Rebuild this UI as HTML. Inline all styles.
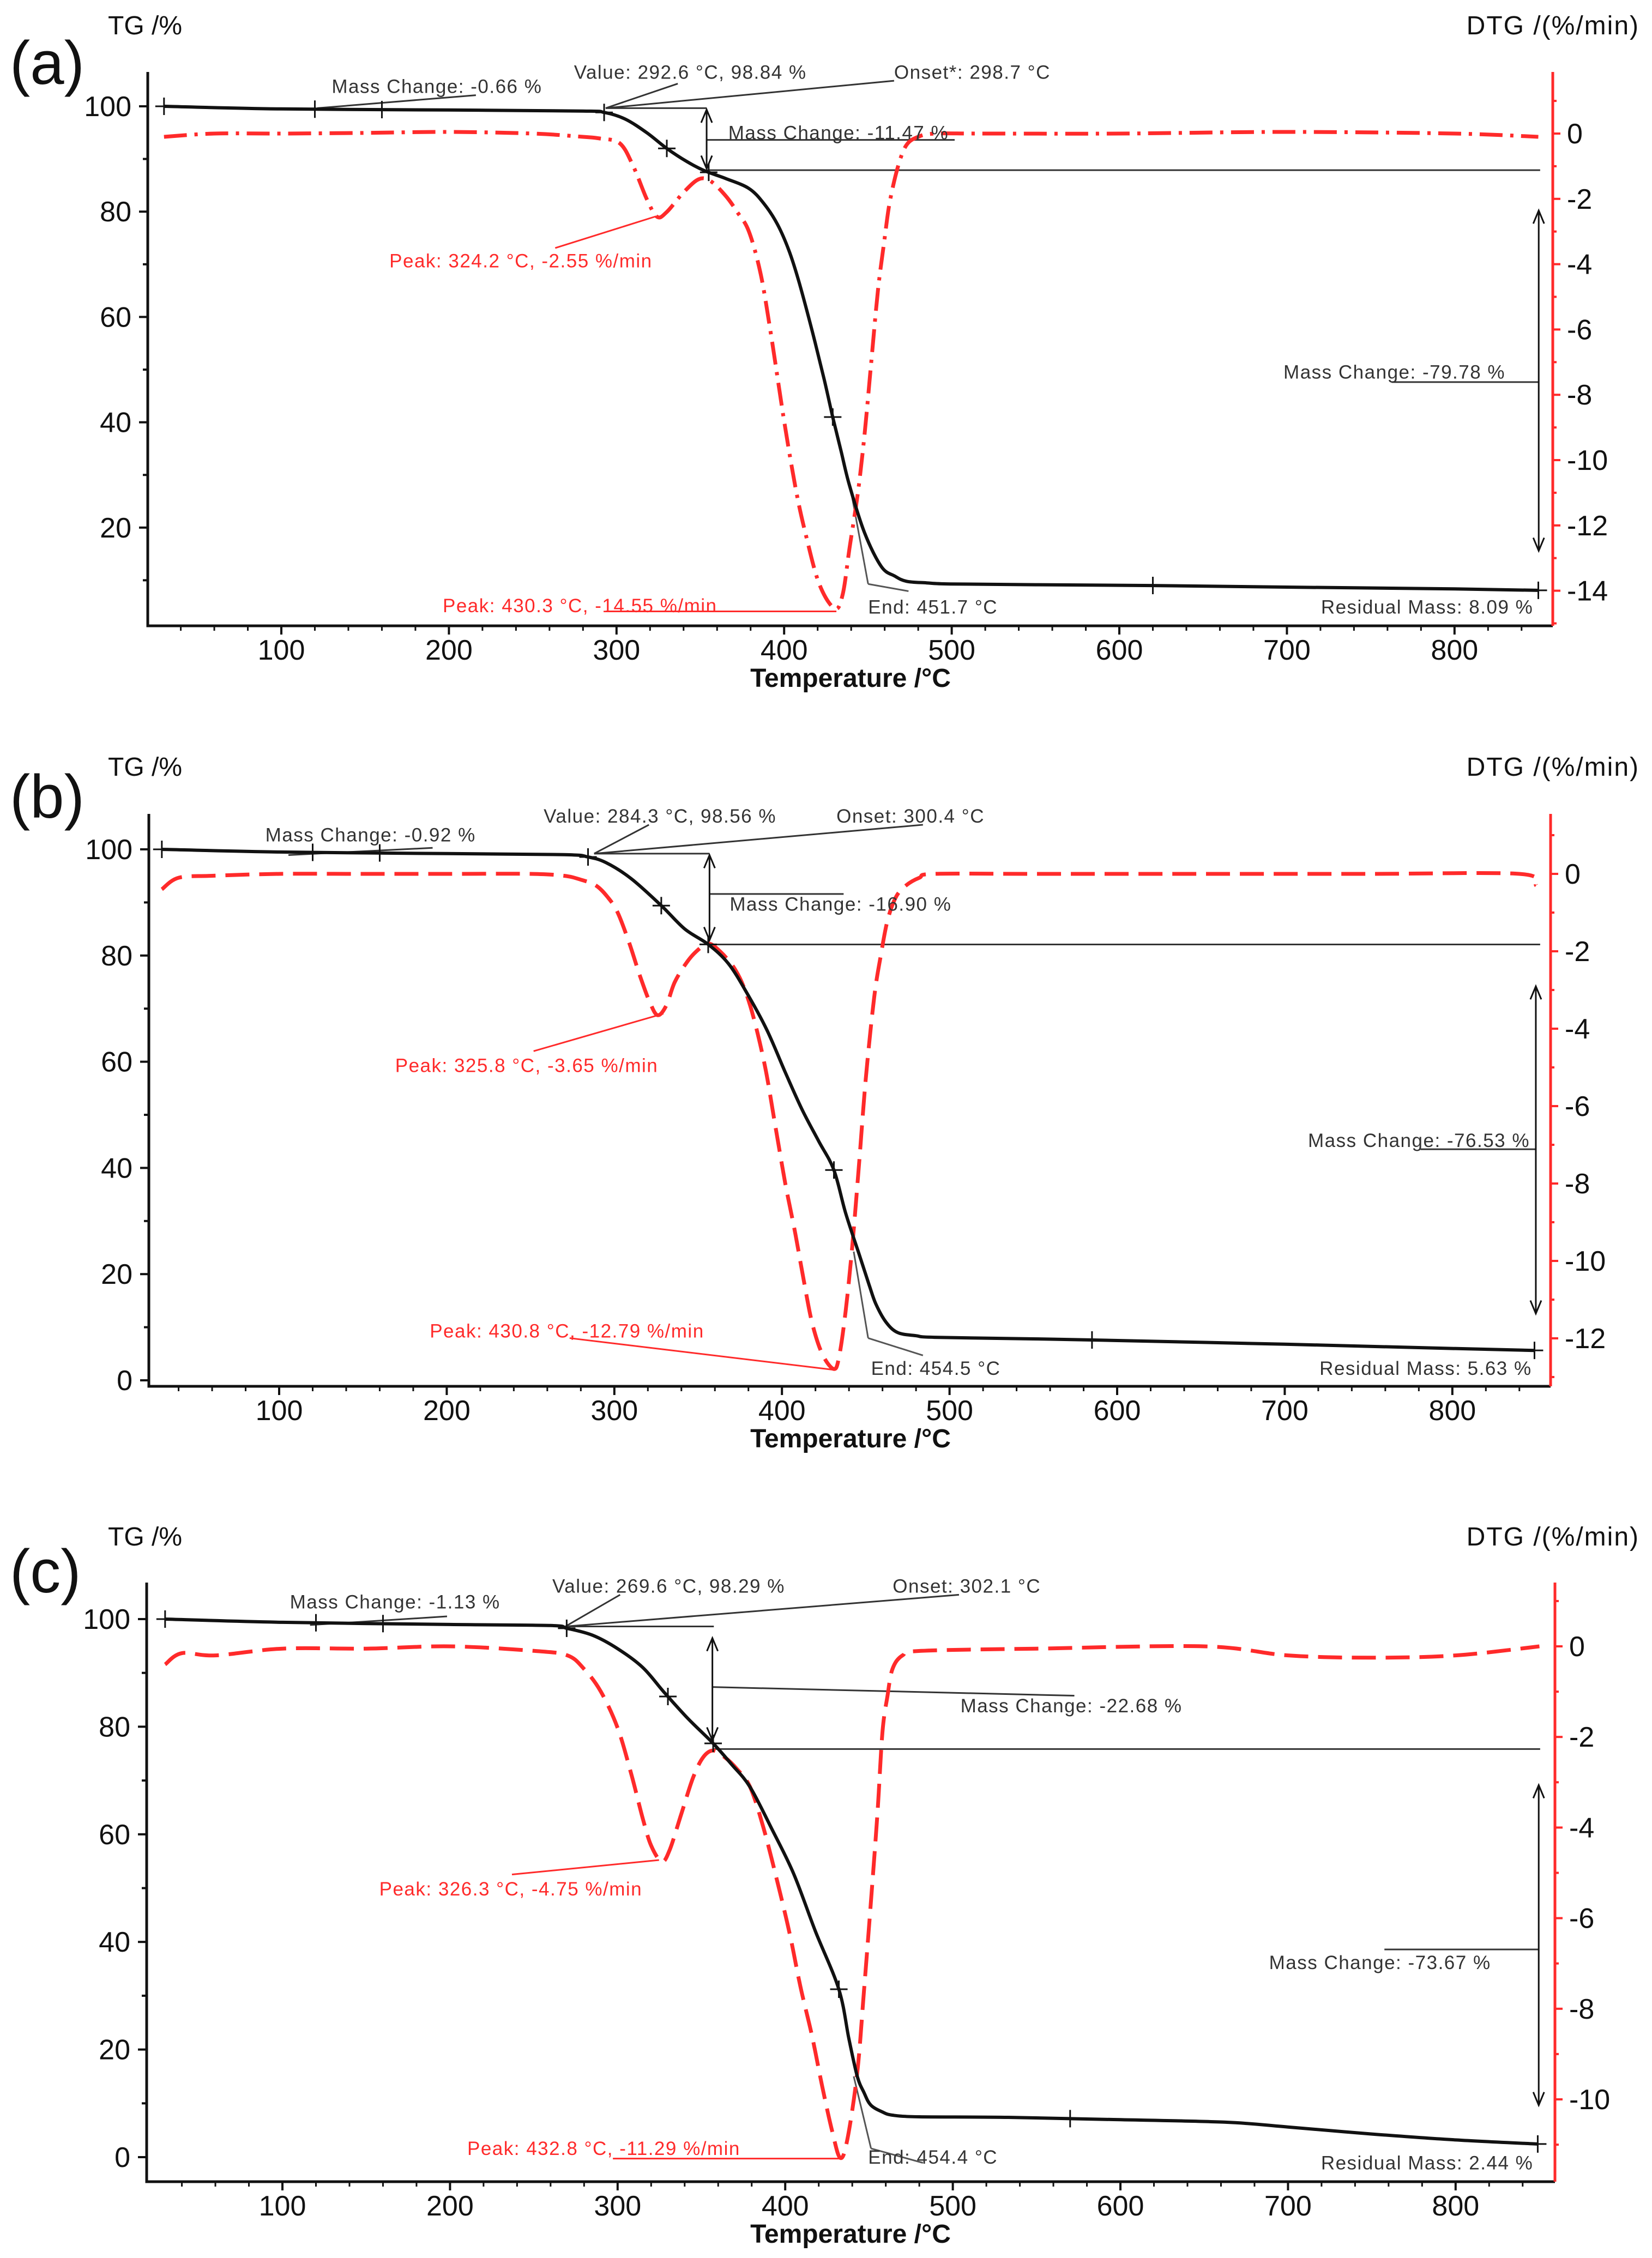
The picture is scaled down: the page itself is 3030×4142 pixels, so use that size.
<!DOCTYPE html>
<html><head><meta charset="utf-8">
<style>
html,body{margin:0;padding:0;background:#fff;}
svg{display:block;font-family:"Liberation Sans",sans-serif;}
</style></head>
<body>
<svg id="fig" width="3030" height="4142" viewBox="0 0 3030 4142" xmlns="http://www.w3.org/2000/svg"></svg>
<script>
// ---------- data ----------
const tgT_a=[30,100,200,280,292.6,305,318,330,342,353,365,379,388,396,403,409,417,424,429,434,439,448,458,466,473,485,499,550,620,700,800,850];
const tgV_a=[100,99.5,99.3,99.1,98.84,97.6,95,92,89.5,87.7,86.3,84.4,81.5,77.6,72.5,66.5,57,48,41,34.5,28,19,12.6,10.8,9.8,9.5,9.3,9.15,9.0,8.7,8.35,8.09];
const dtgT_a=[30,60,100,150,200,250,280,290,302,310,318,324.2,330,340,349,356,365,372,379,386,392,400,407,413,421,430.3,435,439,444,448,452,456,460,463,468,473,480,490,520,600,700,800,850];
const dtgV_a=[-0.1,0,0,0.02,0.05,0,-0.1,-0.15,-0.3,-1.0,-2.0,-2.55,-2.4,-1.8,-1.4,-1.45,-1.9,-2.4,-3.0,-4.3,-6.1,-8.8,-10.9,-12.3,-13.8,-14.55,-14.1,-12.7,-11,-9.2,-7,-4.8,-3.2,-2.1,-1,-0.35,-0.1,0,0,0,0.05,0,-0.1];

const tgT_b=[30,100,200,270,284.3,295,310,328,342,356,368,379,391,402,412,422,431,438,446,452,456,462,469,480,491,550,585,700,800,849];
const tgV_b=[100,99.5,99.2,99.0,98.56,97.5,94.5,89.4,85,82.1,78.5,73,66,58,51,45,39.6,31.5,23.8,18,14.4,11,9,8.4,8.1,7.8,7.6,6.8,6.0,5.63];
const dtgT_b=[30,40,60,100,150,200,250,270,280,289,296,302,309,315,321,325.8,331,336,343,349,356,363,371,377,383,390,396,402,408,413,418,424,430.8,434,438,442,446,450,455,459,463,468,474,482,491,550,650,750,840,850];
const dtgV_b=[-0.4,-0.1,-0.05,0,0,0,0,-0.05,-0.15,-0.3,-0.6,-1.0,-1.8,-2.6,-3.3,-3.65,-3.4,-2.8,-2.3,-2.0,-1.8,-2.0,-2.4,-2.9,-3.7,-5,-6.5,-8,-9.3,-10.5,-11.6,-12.4,-12.79,-12.5,-11.3,-9.6,-7.5,-5.3,-3.2,-2.1,-1.2,-0.6,-0.3,-0.1,0,0,0,0,0,-0.3];

const tgT_c=[30,100,200,260,269.6,285,300,315,328,342,357,368,379,392,405,418,432,438,443,447,451,458,464,480,533,594,662,700,750,800,849];
const tgV_c=[100,99.4,99.0,98.8,98.29,97,94.5,91,86.3,81.5,76.9,73,68.8,61,52.7,42,31.2,22,15,12,9.7,8.4,7.8,7.5,7.4,7,6.5,5.6,4.3,3.2,2.44];
const dtgT_c=[30,40,60,100,150,200,250,270,280,290,300,308,315,320,326.3,331,338,345,351,357,364,371,379,387,396,403,409,416,422,428,432.8,437,443,447,451,455,458,461,464,470,481,550,650,700,750,800,850];
const dtgV_c=[-0.4,-0.15,-0.2,-0.05,-0.05,0,-0.1,-0.2,-0.5,-1.0,-1.8,-2.8,-3.8,-4.4,-4.75,-4.5,-3.7,-2.9,-2.45,-2.3,-2.45,-2.7,-3.1,-4.0,-5.3,-6.4,-7.5,-8.6,-9.7,-10.7,-11.29,-10.9,-9.4,-7.6,-5.7,-3.7,-1.9,-1.1,-0.5,-0.2,-0.1,-0.05,0,-0.2,-0.25,-0.2,0];

const xTickLabels=[100,200,300,400,500,600,700,800];
const tgTicks_a=[20,40,60,80,100];
const tgTicks_b=[0,20,40,60,80,100];
const tgTicks_c=[0,20,40,60,80,100];
const dtgTicks_a=[0,-2,-4,-6,-8,-10,-12,-14];
const dtgTicks_b=[0,-2,-4,-6,-8,-10,-12];
const dtgTicks_c=[0,-2,-4,-6,-8,-10];
const markT_a=[30,120,160,292.6,330,355,429,620,850];
const markT_b=[30,120,160,284.3,328,356,431,585,849];
const markT_c=[30,120,160,269.6,330,357,432,570,849];

// ---------- panel layout ----------
const S=2.645;
const panels=[
 {id:'a',L:271,R:2848,T:132,B:1148,x100:516,tg100:195,tgU:9.66,d0:245,dU:59.9,labY:58,tagY:116,
  tgT:tgT_a,tgV:tgV_a,dT:dtgT_a,dV:dtgV_a,tgTicks:tgTicks_a,dTicks:dtgTicks_a,marks:markT_a,dash:'42 14 6 14',
  notes:[['Mass Change: -0.66 %',230,60,'#333'],['Value: 292.6 °C, 98.84 %',398,50,'#333'],['Onset*: 298.7 °C',620,50,'#333'],
   ['Mass Change: -11.47 %',505,92,'#333'],['Mass Change: -79.78 %',890,258,'#333'],['Peak: 324.2 °C, -2.55 %/min',270,181,'#ff2a2a'],
   ['Peak: 430.3 °C, -14.55 %/min',307,420,'#ff2a2a'],['End: 451.7 °C',602,421,'#333'],['Residual Mass: 8.09 %',916,421,'#333']],
  lines:[[220,75,330,66,'#333'],[420,75,470,58,'#333'],[420,75,620,56,'#333'],[420,75,490,75,'#333'],[490,97,662,97,'#333'],[490,118,1068,118,'#333'],
   [965,265,1067,265,'#333'],[385,172,455,150,'#ff2a2a'],[420,424,580,424,'#ff2a2a'],[590,340,602,405,'#555'],[602,405,630,410,'#555']],
  arrows:[[490,76,117],[1067,146,382]]},
 {id:'b',L:273,R:2844,T:1493,B:2543,x100:512,tg100:1558,tgU:9.74,d0:1603,dU:71,labY:1418,tagY:1462,
  tgT:tgT_b,tgV:tgV_b,dT:dtgT_b,dV:dtgV_b,tgTicks:tgTicks_b,dTicks:dtgTicks_b,marks:markT_b,dash:'44 18',
  notes:[['Mass Change: -0.92 %',184,579,'#333'],['Value: 284.3 °C, 98.56 %',377,566,'#333'],['Onset: 300.4 °C',580,566,'#333'],
   ['Mass Change: -16.90 %',506,627,'#333'],['Mass Change: -76.53 %',907,791,'#333'],['Peak: 325.8 °C, -3.65 %/min',274,739,'#ff2a2a'],
   ['Peak: 430.8 °C, -12.79 %/min',298,923,'#ff2a2a'],['End: 454.5 °C',604,949,'#333'],['Residual Mass: 5.63 %',915,949,'#333']],
  lines:[[200,593,300,588,'#333'],[412,592,450,572,'#333'],[412,592,640,572,'#333'],[412,592,492,592,'#333'],[492,620,585,620,'#333'],[492,655,1068,655,'#333'],
   [985,797,1065,797,'#333'],[370,729,460,703,'#ff2a2a'],[395,928,578,950,'#ff2a2a'],[592,868,602,928,'#555'],[602,928,640,940,'#555']],
  arrows:[[492,593,652],[1065,684,911]]},
 {id:'c',L:269,R:2852,T:2903,B:4002,x100:518,tg100:2970,tgU:9.87,d0:3020,dU:83.1,labY:2830,tagY:2883,
  tgT:tgT_c,tgV:tgV_c,dT:dtgT_c,dV:dtgV_c,tgTicks:tgTicks_c,dTicks:dtgTicks_c,marks:markT_c,dash:'44 18',
  notes:[['Mass Change: -1.13 %',201,1111,'#333'],['Value: 269.6 °C, 98.29 %',383,1100,'#333'],['Onset: 302.1 °C',619,1100,'#333'],
   ['Mass Change: -22.68 %',666,1183,'#333'],['Mass Change: -73.67 %',880,1361,'#333'],['Peak: 326.3 °C, -4.75 %/min',263,1310,'#ff2a2a'],
   ['Peak: 432.8 °C, -11.29 %/min',324,1490,'#ff2a2a'],['End: 454.4 °C',602,1496,'#333'],['Residual Mass: 2.44 %',916,1500,'#333']],
  lines:[[215,1127,310,1121,'#333'],[392,1128,430,1106,'#333'],[392,1128,665,1106,'#333'],[392,1128,495,1128,'#333'],[494,1170,745,1176,'#333'],[494,1213,1068,1213,'#333'],
   [960,1352,1067,1352,'#333'],[355,1300,457,1290,'#ff2a2a'],[425,1497,583,1497,'#ff2a2a'],[592,1440,604,1490,'#555'],[604,1490,640,1500,'#555']],
  arrows:[[494,1136,1207],[1067,1238,1460]]}
];

const NS='http://www.w3.org/2000/svg';
const svg=document.getElementById('fig');
function mk(tag,attrs,parent){const e=document.createElementNS(NS,tag);for(const k in attrs)e.setAttribute(k,attrs[k]);(parent||svg).appendChild(e);return e;}
function smooth(pts){let d='M'+pts[0][0].toFixed(1)+','+pts[0][1].toFixed(1);
 for(let i=0;i<pts.length-1;i++){const p0=pts[i-1]||pts[i],p1=pts[i],p2=pts[i+1],p3=pts[i+2]||p2;
  const c1=[p1[0]+(p2[0]-p0[0])/6,p1[1]+(p2[1]-p0[1])/6],c2=[p2[0]-(p3[0]-p1[0])/6,p2[1]-(p3[1]-p1[1])/6];
  d+='C'+c1[0].toFixed(1)+','+c1[1].toFixed(1)+' '+c2[0].toFixed(1)+','+c2[1].toFixed(1)+' '+p2[0].toFixed(1)+','+p2[1].toFixed(1);}
 return d;}
function interp(xs,ys,x){for(let i=0;i<xs.length-1;i++){if(x>=xs[i]&&x<=xs[i+1]){const t=(x-xs[i])/(xs[i+1]-xs[i]);return ys[i]+t*(ys[i+1]-ys[i]);}}return ys[ys.length-1];}

panels.forEach(p=>{
 const g=mk('g',{});
 
 
 const X=t=>p.x100+(t-100)*3.074;
 const Ytg=v=>p.tg100+(100-v)*p.tgU;
 const Yd=d=>p.d0-d*p.dU;
 const tag=mk('text',{x:18,y:p.tagY+38,'font-size':112,fill:'#111'},g);tag.textContent='('+p.id+')';
 
 
 const tl=mk('text',{x:198,y:p.labY+5,'font-size':48,fill:'#111'},g);tl.textContent='TG /%';
 
 
 const dl=mk('text',{x:3007,y:p.labY+5,'font-size':48,fill:'#111','text-anchor':'end','letter-spacing':2},g);dl.textContent='DTG /(%/min)';
 
 
 const ax=mk('path',{d:`M${p.L},${p.T}V${p.B}H${p.R}`,stroke:'#111','stroke-width':5,fill:'none'},g);
 
 
 const rax=mk('line',{x1:p.R,y1:p.T,x2:p.R,y2:p.B,stroke:'#ff2a2a','stroke-width':5},g);
 
 
 for(let t=40;t<=850;t+=20){const maj=t%100===0;mk('line',{x1:X(t),x2:X(t),y1:p.B,y2:p.B+(maj?16:9),stroke:'#111','stroke-width':maj?4:3},g);}
 xTickLabels.forEach(t=>{const e=mk('text',{x:X(t),y:p.B+62,'font-size':52,'text-anchor':'middle',fill:'#111'},g);e.textContent=t;
  
  });
 const xt=mk('text',{x:1560,y:p.B+112,'font-size':48,'text-anchor':'middle',fill:'#111','font-weight':'bold'},g);xt.textContent='Temperature /°C';
 
 
 for(let v=-10;v<=105;v+=10){const y=Ytg(v);if(y<p.T||y>p.B)continue;const maj=v%20===0;mk('line',{x1:p.L-(maj?16:9),x2:p.L,y1:y,y2:y,stroke:'#111','stroke-width':4},g);}
 p.tgTicks.forEach(v=>{const e=mk('text',{x:p.L-30,y:Ytg(v)+18,'font-size':52,'text-anchor':'end',fill:'#111'},g);e.textContent=v;
  
  });
 for(let d=2;d>=-16;d--){const y=Yd(d);if(y<p.T||y>p.B)continue;mk('line',{x1:p.R,x2:p.R+(d%2===0?14:7),y1:y,y2:y,stroke:'#ff2a2a','stroke-width':4},g);}
 p.dTicks.forEach(d=>{const e=mk('text',{x:p.R+26,y:Yd(d)+18,'font-size':52,fill:'#111'},g);e.textContent=d;
  
  });
 p.lines.forEach(l=>{mk('line',{x1:l[0]*S,y1:l[1]*S,x2:l[2]*S,y2:l[3]*S,stroke:l[4],'stroke-width':3},g);});
 p.arrows.forEach(a=>{const x=a[0]*S,y1=a[1]*S,y2=a[2]*S;
  const ar=mk('path',{d:`M${x},${y1}V${y2}M${x-10},${y1+24}L${x},${y1}L${x+10},${y1+24}M${x-10},${y2-24}L${x},${y2}L${x+10},${y2-24}`,stroke:'#111','stroke-width':3,fill:'none'},g);
  
  });
 const dc=mk('path',{d:smooth(p.dT.map((t,i)=>[X(t),Yd(p.dV[i])])),stroke:'#ff2a2a','stroke-width':7,fill:'none','stroke-dasharray':p.dash},g);
 
 
 const tc=mk('path',{d:smooth(p.tgT.map((t,i)=>[X(t),Ytg(p.tgV[i])])),stroke:'#111','stroke-width':6,fill:'none'},g);
 
 
 p.marks.forEach(t=>{const x=X(t),y=Ytg(interp(p.tgT,p.tgV,t));
  const m=mk('path',{d:`M${x-16},${y}H${x+16}M${x},${y-16}V${y+16}`,stroke:'#111','stroke-width':3},g);
  
  });
 p.notes.forEach(n=>{const e=mk('text',{x:n[1]*S,y:n[2]*S+12,'font-size':35,'letter-spacing':1.5,fill:n[3]},g);e.textContent=n[0];
  
  });
});
</script>
</body></html>
